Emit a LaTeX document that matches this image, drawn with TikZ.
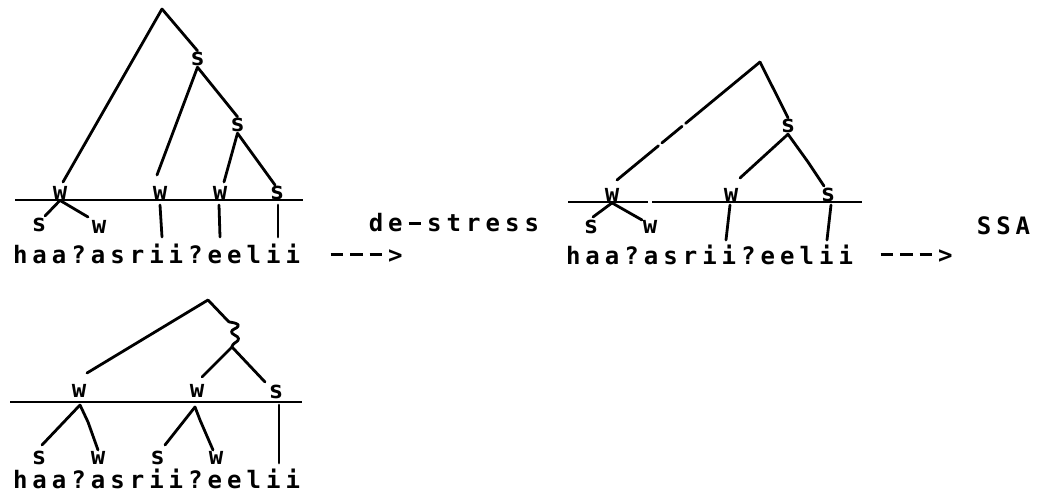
\documentclass[tikz,border=0pt]{standalone}
\usepackage{fontspec}
\newfontfamily\dm{DejaVu Sans Mono}
\usetikzlibrary{calc}
\newlength\pitch
\setlength\pitch{14.6pt}
\def\spaced#1{\spacedi#1\relax}
\def\spacedi#1{\ifx\relax#1\else\makebox[\pitch]{#1}\expandafter\spacedi\fi}
\def\dsh{\rule[5.2pt]{9.5pt}{2.1pt}}
\tikzset{
  lbl/.style={inner sep=0.8pt, font=\dm\bfseries\fontsize{18pt}{20pt}\selectfont},
  txt/.style={inner sep=0pt, anchor=base west, font=\dm\bfseries\fontsize{18pt}{20pt}\selectfont},
  br/.style={line width=2.1pt, line cap=round, line join=round},
  bar/.style={line width=2.1pt}
}
\begin{document}
\begin{tikzpicture}[x=0.75pt,y=-0.75pt]
\useasboundingbox (0,0) rectangle (1049,502);
% ================= Tree 1 =================
\coordinate (A1) at (162,9);
\node[lbl] (s1) at (197.5,59) {s};
\node[lbl] (s2) at (237.5,125) {s};
\node[lbl] (w1) at (60,192.5) {w};
\node[lbl] (w2) at (160,192.5) {w};
\node[lbl] (w3) at (220,192.5) {w};
\node[lbl] (s3) at (277,192.5) {s};
\node[lbl] (sa) at (39,225) {s};
\node[lbl] (wb) at (99,227) {w};
\coordinate (e1) at (63,182);
\coordinate (e2) at (157,175);
\coordinate (e3) at (224,182);
\coordinate (e4) at (275,185);
\coordinate (e5) at (45,216);
\coordinate (e6) at (88,217);
\coordinate (h1l) at (15,200);
\coordinate (h1r) at (303,200);
\coordinate (v1a) at (160,205); \coordinate (v1b) at (162,237);
\coordinate (v2a) at (219,205); \coordinate (v2b) at (220,237);
\coordinate (v3a) at (278,205); \coordinate (v3b) at (278,237);
\draw[br] (A1) -- (e1);
\draw[br] (A1) -- (s1.north);
\draw[br] (s1.south) -- (e2);
\draw[br] (s1.south) -- (s2.north);
\draw[br] (s2.south) -- (e3);
\draw[br] (s2.south) -- (e4);
\draw[bar] (h1l) -- (h1r);
\draw[br] (w1.south) -- (e5);
\draw[br] (w1.south) -- (e6);
\draw[br] (v1a) -- (v1b);
\draw[br] (v2a) -- (v2b);
\draw[br] (v3a) -- (v3b);
\node[txt] (t1) at (10.25,263) {\spaced{haa?asrii?eelii}};
\node[txt] (ar1) at (327,263) {\spaced{\dsh\dsh\dsh>}};
\node[txt] (ds) at (366,232) {\spaced{de\dsh stress}};
% ================= Tree 2 =================
\coordinate (A2) at (760,62);
\node[lbl] (s4) at (788,126) {s};
\node[lbl] (w4) at (612,195) {w};
\node[lbl] (w5) at (731,195) {w};
\node[lbl] (s5) at (828,195) {s};
\node[lbl] (sb) at (591,227) {s};
\node[lbl] (wc) at (650,227) {w};
\coordinate (f1) at (617,180);
\coordinate (f2) at (740,178);
\coordinate (f3) at (808,162);
\coordinate (f4) at (824,186);
\coordinate (f5) at (593,217);
\coordinate (f6) at (642,220);
\coordinate (h2l) at (568,202); \coordinate (h2m) at (648,202);
\coordinate (h2n) at (652,202); \coordinate (h2r) at (862,202);
\coordinate (v4a) at (730,205); \coordinate (v4b) at (726,240);
\coordinate (v5a) at (831,205); \coordinate (v5b) at (827,240);
\draw[br] (A2) -- ($(A2)!0.52!(f1)$);
\draw[br] ($(A2)!0.545!(f1)$) -- ($(A2)!0.686!(f1)$);
\draw[br] ($(A2)!0.71!(f1)$) -- (f1);
\draw[br] (A2) -- (s4.north);
\draw[br] (s4.south) -- (f2);
\draw[br] (s4.south) -- (f3) -- (f4);
\draw[bar] (h2l) -- (h2m);
\draw[bar] (h2n) -- (h2r);
\draw[br] (w4.south) -- (f5);
\draw[br] (w4.south) -- (f6);
\draw[br] (v4a) -- (v4b);
\draw[br] (v5a) -- (v5b);
\node[txt] (t2) at (563.25,265) {\spaced{haa?asrii?eelii}};
\node[txt] (ar2) at (877,263) {\spaced{\dsh\dsh\dsh>}};
\node[txt] (ssa) at (974,235) {\spaced{SSA}};
% ================= Tree 3 =================
\coordinate (A3) at (208,300);
\coordinate (q1) at (229,322);
\coordinate (q2) at (232,347);
\node[lbl] (w6) at (79,391) {w};
\node[lbl] (w7) at (197,391) {w};
\node[lbl] (s6) at (276,392) {s};
\node[lbl] (sc) at (39,457.5) {s};
\node[lbl] (wd) at (98,457.5) {w};
\node[lbl] (se) at (157.5,457.5) {s};
\node[lbl] (wf) at (216,457.5) {w};
\coordinate (g1) at (87,373);
\coordinate (g2) at (202,377);
\coordinate (g3) at (265,382);
\coordinate (h3l) at (10,402); \coordinate (h3r) at (302,402);
\coordinate (g4) at (80,405);
\coordinate (g5) at (42,445);
\coordinate (g6) at (88,422); \coordinate (g7) at (98,450);
\coordinate (g8) at (195,407);
\coordinate (g9) at (165,445);
\coordinate (g10) at (200,420); \coordinate (g11) at (213,450);
\coordinate (v6a) at (279,405); \coordinate (v6b) at (279,463);
\draw[br] (A3) -- (q1);
\draw[br] (A3) -- (g1);
\draw[br] plot[smooth, tension=0.8] coordinates {(q1) (236,323.5) (238,326.5) (231.5,332) (238.5,338.5) (233,344.5) (q2)};
\draw[br] (q2) -- (g2);
\draw[br] (q2) -- (g3);
\draw[bar] (h3l) -- (h3r);
\draw[br] (g4) -- (g5);
\draw[br] (g4) -- (g6) -- (g7);
\draw[br] (g8) -- (g9);
\draw[br] (g8) -- (g10) -- (g11);
\draw[br] (v6a) -- (v6b);
\node[txt] (t3) at (10.25,488) {\spaced{haa?asrii?eelii}};
\end{tikzpicture}
\end{document}
